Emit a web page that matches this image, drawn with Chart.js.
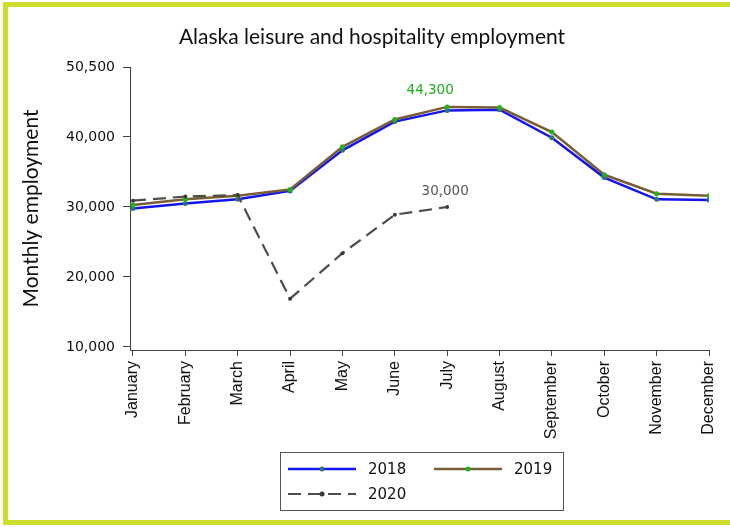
<!DOCTYPE html>
<html>
<head>
<meta charset="utf-8">
<script src="https://cdn.jsdelivr.net/npm/chart.js@4"></script>
<style>
html,body{margin:0;padding:0;background:#fff;}
#wrap{position:relative;width:730px;height:527px;}
</style>
</head>
<body>
<div id="wrap"><canvas id="c" width="730" height="527"></canvas></div>
<script>
const months = ["January","February","March","April","May","June","July","August","September","October","November","December"];
const s2018 = [29800,30500,31100,32300,38100,42200,43800,43900,39900,34200,31100,31000];
const s2019 = [30300,31100,31600,32500,38600,42500,44300,44200,40700,34600,31900,31600];
const s2020 = [30900,31500,31700,16900,23400,28900,30000];
const yTickValues = [10000,20000,30000,40000,50000];
const yTickLabels = ["10,000","20,000","30,000","40,000","50,500"];
const chartTitle = "Alaska leisure and hospitality employment";
const annotations = [
  {series: 1, index: 6, text: "44,300", color: "#1faa1f", dx: -17, dy: -16},
  {series: 2, index: 6, text: "30,000", color: "#555555", dx: -2, dy: -15}
];

const toPts = arr => arr.map((v,i)=>({x:i,y:v}));

const framePlugin = {
  id:'frame',
  beforeDraw(chart){
    const c = chart.ctx;
    c.save();
    c.fillStyle = '#fff';
    c.fillRect(0,0,chart.width,chart.height);
    c.fillStyle = '#cfdd2c';
    c.fillRect(3,2,727,5);
    c.fillRect(3,2,5,523);
    c.fillRect(3,520,727,5);
    c.fillStyle = '#111';
    c.font = '21px Lato';
    c.textAlign = 'center';
    c.textBaseline = 'middle';
    c.fillText(chartTitle, 372, 37);
    c.restore();
  }
};

const annotPlugin = {
  id:'annot',
  afterDatasetsDraw(chart){
    const c = chart.ctx, xs = chart.scales.x, ys = chart.scales.y;
    c.save();
    c.font = '13.5px "DejaVu Sans"';
    c.textAlign = 'center';
    c.textBaseline = 'middle';
    annotations.forEach(a=>{
      const v = chart.data.datasets[a.series].data[a.index];
      const x = xs.getPixelForValue(v.x) + a.dx;
      const y = ys.getPixelForValue(v.y) + a.dy;
      c.fillStyle = a.color;
      c.fillText(a.text, x, y);
    });
    c.restore();
  }
};

const legendPlugin = {
  id:'customLegend',
  afterDraw(chart){
    const c = chart.ctx;
    const ds = chart.data.datasets;
    c.save();
    c.strokeStyle = '#555';
    c.lineWidth = 1;
    c.strokeRect(280.5,452.5,283,58);
    const items = [
      {d:ds[0], x:288, y:469},
      {d:ds[1], x:434, y:469},
      {d:ds[2], x:288, y:494}
    ];
    c.font = '15px "DejaVu Sans"';
    c.textBaseline = 'middle';
    c.textAlign = 'left';
    items.forEach(it=>{
      const d = it.d;
      c.strokeStyle = d.borderColor;
      c.lineWidth = d.borderWidth;
      c.setLineDash(d.borderDash || []);
      c.beginPath();
      c.moveTo(it.x, it.y);
      c.lineTo(it.x+68, it.y);
      c.stroke();
      c.setLineDash([]);
      c.fillStyle = d.pointBackgroundColor;
      c.beginPath();
      c.arc(it.x+34, it.y, 2.5, 0, Math.PI*2);
      c.fill();
      c.fillStyle = '#111';
      c.fillText(d.label, it.x+80, it.y+1);
    });
    c.restore();
  }
};

new Chart(document.getElementById('c'), {
  type:'line',
  data:{
    datasets:[
      {label:'2018', data:toPts(s2018), borderColor:'#1414f0', borderWidth:2.5, pointRadius:2.5, pointBorderWidth:0, pointBackgroundColor:'#2f7474', tension:0, order:2},
      {label:'2019', data:toPts(s2019), borderColor:'#7a5d36', borderWidth:2.5, pointRadius:2.5, pointBorderWidth:0, pointBackgroundColor:'#1fb31f', tension:0, order:1},
      {label:'2020', data:toPts(s2020), borderColor:'#4d4d48', borderWidth:2.2, borderDash:[13,7], pointRadius:2, pointBorderWidth:0, pointBackgroundColor:'#3a3a3a', tension:0, order:0}
    ]
  },
  options:{
    responsive:false,
    animation:false,
    layout:{padding:{left:0,right:21,top:67,bottom:0}},
    plugins:{
      legend:{display:false},
      tooltip:{enabled:false},
      title:{display:false}
    },
    scales:{
      x:{
        type:'linear', min:-0.057, max:11,
        afterBuildTicks(s){ s.ticks = months.map((m,i)=>({value:i})); },
        afterFit(s){ s.height = 177; s.paddingRight = 0; s.paddingLeft = 0; },
        grid:{drawOnChartArea:false, drawTicks:true, tickLength:6, color:'#444'},
        border:{display:true, color:'#444', width:1},
        ticks:{autoSkip:false, maxRotation:90, minRotation:90, padding:5, color:'#111', font:{family:'Liberation Sans', size:16}, callback:(v)=>months[v]}
      },
      y:{
        type:'linear', min:9571, max:50000,
        afterBuildTicks(s){ s.ticks = yTickValues.map(v=>({value:v})); },
        afterFit(s){ s.width = 130; },
        grid:{drawOnChartArea:false, drawTicks:true, tickLength:7, color:'#444'},
        border:{display:true, color:'#444', width:1},
        ticks:{padding:8, color:'#111', font:{family:'DejaVu Sans', size:14}, callback:(v)=>yTickLabels[yTickValues.indexOf(v)]},
        title:{display:true, text:'Monthly employment', color:'#111', font:{family:'Lato', size:21}, padding:{top:19,bottom:0}}
      }
    }
  },
  plugins:[framePlugin, annotPlugin, legendPlugin]
});
</script>
</body>
</html>
